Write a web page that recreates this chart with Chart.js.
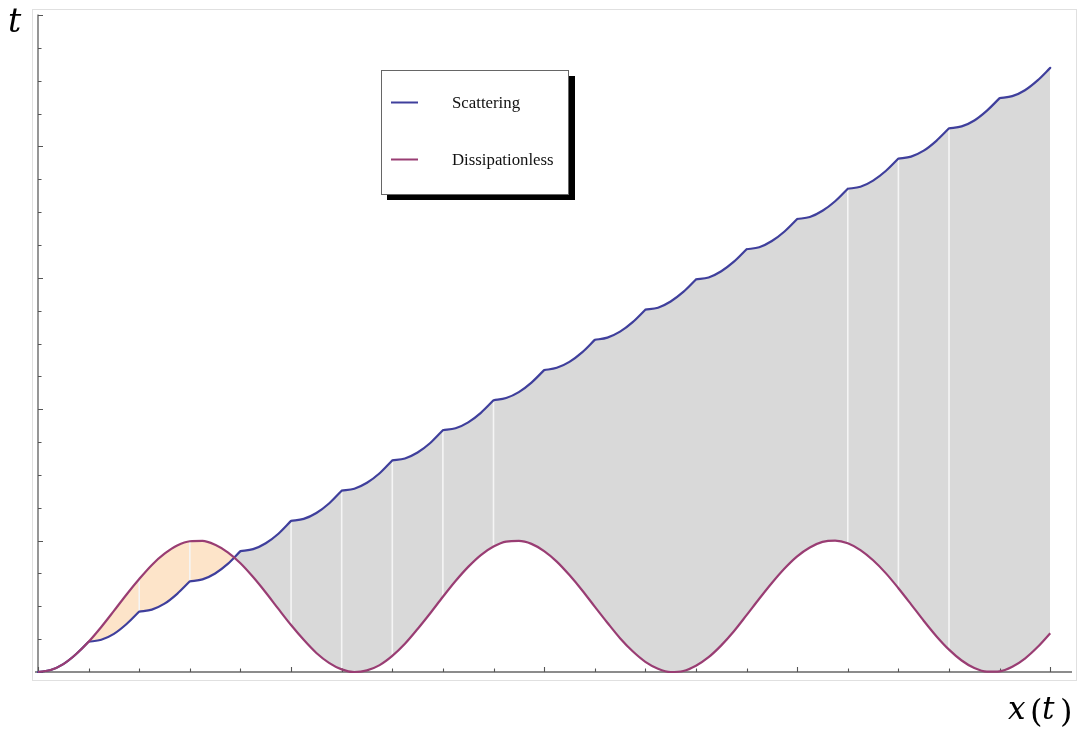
<!DOCTYPE html>
<html>
<head>
<meta charset="utf-8">
<script src="https://cdn.jsdelivr.net/npm/chart.js@4.4.1/dist/chart.umd.min.js"></script>
<style>
  html, body { margin: 0; padding: 0; background: #ffffff; }
  canvas { display: block; }
</style>
</head>
<body>
<canvas id="c" width="1082" height="729"></canvas>
<script>
// Position x (horizontal axis), sampled every quarter unit
const xs = [
  0, 0.25, 0.5, 0.75, 1, 1.25, 1.5, 1.75, 2, 2.25, 2.5, 2.75, 3, 3.25, 3.5, 3.75,
  4, 4.25, 4.5, 4.75, 5, 5.25, 5.5, 5.75, 6, 6.25, 6.5, 6.75, 7, 7.25, 7.5, 7.75,
  8, 8.25, 8.5, 8.75, 9, 9.25, 9.5, 9.75, 10, 10.25, 10.5, 10.75, 11, 11.25, 11.5, 11.75,
  12, 12.25, 12.5, 12.75, 13, 13.25, 13.5, 13.75, 14, 14.25, 14.5, 14.75, 15, 15.25, 15.5, 15.75,
  16, 16.25, 16.5, 16.75, 17, 17.25, 17.5, 17.75, 18, 18.25, 18.5, 18.75, 19, 19.25, 19.5, 19.75, 20
];

// t for the scattering trajectory (restarts from rest at every integer x)
const scattering = [
  0, 0.06, 0.24, 0.54, 0.92, 0.98, 1.16, 1.46, 1.84, 1.90, 2.08, 2.38, 2.76, 2.82, 3.00, 3.29,
  3.68, 3.74, 3.92, 4.21, 4.60, 4.66, 4.84, 5.13, 5.52, 5.58, 5.76, 6.05, 6.44, 6.50, 6.68, 6.97,
  7.36, 7.42, 7.60, 7.89, 8.27, 8.34, 8.52, 8.81, 9.19, 9.26, 9.44, 9.73, 10.11, 10.18, 10.36, 10.65,
  11.03, 11.09, 11.28, 11.57, 11.95, 12.01, 12.20, 12.49, 12.87, 12.93, 13.12, 13.41, 13.79, 13.85, 14.04, 14.33,
  14.71, 14.77, 14.96, 15.25, 15.63, 15.69, 15.87, 16.17, 16.55, 16.61, 16.79, 17.09, 17.47, 17.53, 17.71, 18.01, 18.39
];

// t for the dissipationless trajectory
const dissipationless = [
  0, 0.06, 0.24, 0.54, 0.92, 1.37, 1.86, 2.36, 2.83, 3.26, 3.60, 3.85, 3.98, 3.99, 3.87, 3.64,
  3.31, 2.89, 2.42, 1.92, 1.43, 0.98, 0.58, 0.28, 0.08, 0.00, 0.05, 0.21, 0.49, 0.86, 1.31, 1.79,
  2.29, 2.77, 3.20, 3.56, 3.82, 3.97, 3.99, 3.90, 3.68, 3.36, 2.95, 2.49, 1.99, 1.50, 1.03, 0.63,
  0.31, 0.10, 0.00, 0.03, 0.19, 0.45, 0.81, 1.24, 1.73, 2.23, 2.71, 3.15, 3.52, 3.79, 3.96, 4.00,
  3.92, 3.71, 3.40, 3.01, 2.55, 2.06, 1.56, 1.09, 0.68, 0.35, 0.12, 0.01, 0.02, 0.16, 0.41, 0.76, 1.18
];

const seriesNames = ['Scattering', 'Dissipationless'];

// Tick marks (no numeric labels are drawn)
const xTicks = [0, 1, 2, 3, 4, 5, 6, 7, 8, 9, 10, 11, 12, 13, 14, 15, 16, 17, 18, 19, 20];
const xMajor = [0, 5, 10, 15, 20];
const yTicks = [0, 1, 2, 3, 4, 5, 6, 7, 8, 9, 10, 11, 12, 13, 14, 15, 16, 17, 18, 19, 20];
const yMajor = [0, 4, 8, 12, 16, 20];

// Positions where white mesh lines cut through the filled regions
const meshX = [2, 3, 5, 6, 7, 8, 9, 16, 17, 18];

const BLUE = '#3f3f9c';
const PURPLE = '#993d73';
const ORANGE_FILL = '#fde4c9';
const GREY_FILL = '#d9d9d9';

const scatterPts = xs.map((x, i) => ({ x, y: scattering[i] }));
const dissPts = xs.map((x, i) => ({ x, y: dissipationless[i] }));

// Visible scattering curve: break the spline at every collision so the kinks stay sharp
const scatterBroken = [];
xs.forEach((x, i) => {
  scatterBroken.push({ x, y: scattering[i] });
  if (Number.isInteger(x) && x > 0 && x < 20) {
    scatterBroken.push({ x, y: null });
    scatterBroken.push({ x, y: scattering[i] });
  }
});

const decor = {
  id: 'decor',
  beforeDraw(chart) {
    const ctx = chart.ctx;
    ctx.save();
    ctx.strokeStyle = '#e0e0e0';
    ctx.lineWidth = 1;
    ctx.strokeRect(32.5, 9.5, 1044, 671);
    ctx.restore();
  },
  beforeDatasetsDraw(chart) {
    const { ctx, scales: { x, y }, chartArea } = chart;
    ctx.save();
    // mesh lines inside the fills
    ctx.strokeStyle = '#f5f5f5';
    ctx.lineWidth = 1.6;
    meshX.forEach(v => {
      const i = xs.indexOf(v);
      const px = x.getPixelForValue(v);
      ctx.beginPath();
      ctx.moveTo(px, y.getPixelForValue(dissipationless[i]));
      ctx.lineTo(px, y.getPixelForValue(scattering[i]));
      ctx.stroke();
    });
    // axes
    const x0 = x.getPixelForValue(0);
    const y0 = y.getPixelForValue(0);
    ctx.strokeStyle = '#8c8c8c';
    ctx.lineWidth = 1.8;
    ctx.beginPath();
    ctx.moveTo(x0, y0 + 0.5);
    ctx.lineTo(x0, y.getPixelForValue(20) - 0.5);
    ctx.moveTo(x0 - 3, y0);
    ctx.lineTo(chartArea.right, y0);
    ctx.stroke();
    ctx.strokeStyle = '#555555';
    ctx.lineWidth = 1.1;
    ctx.beginPath();
    yTicks.forEach(v => {
      const py = Math.round(y.getPixelForValue(v)) + 0.5;
      const len = yMajor.includes(v) ? 5 : 3.5;
      ctx.moveTo(x0, py);
      ctx.lineTo(x0 + len, py);
    });
    xTicks.forEach(v => {
      const px = Math.round(x.getPixelForValue(v)) + 0.5;
      const len = xMajor.includes(v) ? 5 : 3.5;
      ctx.moveTo(px, y0);
      ctx.lineTo(px, y0 - len);
    });
    ctx.stroke();
    ctx.restore();
  },
  afterDraw(chart) {
    const ctx = chart.ctx;
    ctx.save();
    // legend box with drop shadow
    ctx.fillStyle = '#000000';
    ctx.fillRect(387, 76, 188, 124);
    ctx.fillStyle = '#ffffff';
    ctx.fillRect(381, 70, 188, 125);
    ctx.strokeStyle = '#666666';
    ctx.lineWidth = 1;
    ctx.strokeRect(381.5, 70.5, 187, 124);
    const entries = [
      { name: seriesNames[0], color: BLUE, ly: 102.5, ty: 108 },
      { name: seriesNames[1], color: PURPLE, ly: 159.5, ty: 165 }
    ];
    entries.forEach(e => {
      ctx.strokeStyle = e.color;
      ctx.lineWidth = 2;
      ctx.beginPath();
      ctx.moveTo(391, e.ly);
      ctx.lineTo(418, e.ly);
      ctx.stroke();
      ctx.fillStyle = '#111111';
      ctx.font = '16.8px "Liberation Serif", "Times New Roman", serif';
      ctx.textBaseline = 'alphabetic';
      ctx.textAlign = 'left';
      ctx.fillText(e.name, 452, e.ty);
    });
    // axis labels
    ctx.fillStyle = '#000000';
    ctx.textBaseline = 'alphabetic';
    ctx.textAlign = 'left';
    ctx.font = 'italic 33px "DejaVu Serif", serif';
    ctx.fillText('t', 8, 32);
    ctx.font = 'italic 31px "DejaVu Serif", serif';
    ctx.fillText('x', 1008, 719);
    ctx.fillText('t', 1042, 719);
    ctx.font = '32px "DejaVu Serif", serif';
    ctx.fillText('(', 1030, 722);
    ctx.fillText(')', 1060, 722);
    ctx.restore();
  }
};

new Chart(document.getElementById('c'), {
  type: 'line',
  data: {
    datasets: [
      {
        label: 'scattering-edge',
        data: scatterPts,
        borderWidth: 0,
        borderColor: 'rgba(0,0,0,0)',
        pointRadius: 0,
        tension: 0,
        fill: false,
        order: 3
      },
      {
        label: seriesNames[1],
        data: dissPts,
        borderColor: PURPLE,
        borderWidth: 2.2,
        pointRadius: 0,
        cubicInterpolationMode: 'monotone',
        fill: { target: 0, above: ORANGE_FILL, below: GREY_FILL },
        clip: false,
        order: 1
      },
      {
        label: seriesNames[0],
        data: scatterBroken,
        borderColor: BLUE,
        borderWidth: 2.2,
        borderCapStyle: 'round',
        pointRadius: 0,
        cubicInterpolationMode: 'monotone',
        spanGaps: false,
        fill: false,
        clip: false,
        order: 2
      }
    ]
  },
  options: {
    responsive: false,
    animation: false,
    events: [],
    layout: { padding: { left: 38, right: 10, top: 15, bottom: 57 } },
    scales: {
      x: { type: 'linear', display: false, min: 0, max: 20.43 },
      y: { type: 'linear', display: false, min: 0, max: 20 }
    },
    plugins: {
      legend: { display: false },
      tooltip: { enabled: false },
      filler: { drawTime: 'beforeDatasetsDraw' }
    }
  },
  plugins: [decor]
});
</script>
</body>
</html>
